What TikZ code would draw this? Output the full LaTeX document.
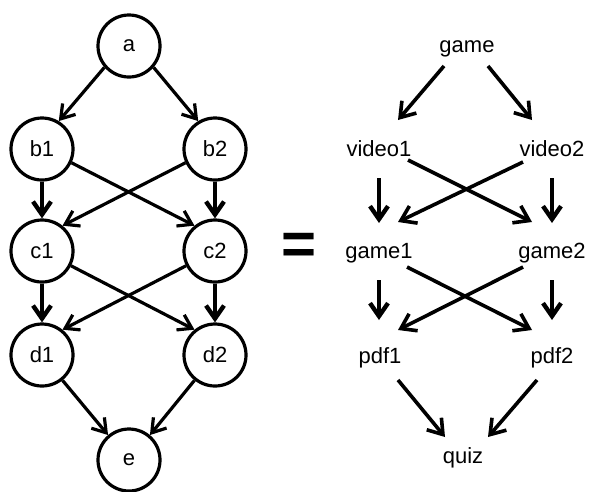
\documentclass[tikz,border=0pt]{standalone}
\usepackage{fontspec}
\setmainfont{Liberation Sans}
\usetikzlibrary{arrows.meta,calc}
\tikzset{
  circ/.style={circle,draw,line width=3.2pt,minimum size=62pt,inner sep=0pt,font=\fontsize{22}{26}\selectfont},
  lbl/.style={inner sep=0pt,anchor=base,font=\fontsize{22}{26}\selectfont},
  arr/.style={line width=3.2pt,-{Straight Barb[length=13pt,width=17pt]}},
  rarr/.style={line width=3.6pt,-{Straight Barb[length=14pt,width=19pt]}},
  varr/.style={line width=4.4pt,-{Straight Barb[length=13pt,width=18pt]}},
}
\begin{document}
\begin{tikzpicture}[x=1pt,y=-1pt]
\useasboundingbox (0,0) rectangle (591,491);
% left graph
\node[circ] (a)  at (129,46)  {a};
\node[circ] (b1) at (42,149)  {b1};
\node[circ] (b2) at (215,149) {b2};
\node[circ] (c1) at (42,251)  {c1};
\node[circ] (c2) at (215,251) {c2};
\node[circ] (d1) at (42,355)  {d1};
\node[circ] (d2) at (215,355) {d2};
\node[circ] (e)  at (129,460) {e};
\draw[arr] (a.221) -- (b1.59);
\draw[arr] (a.-41) -- (b2.121);
\draw[varr] (b1.south) -- (c1.north);
\draw[varr] (b2.south) -- (c2.north);
\draw[arr] (b1.-25) -- (c2.129);
\draw[arr] (b2.205) -- (c1.51);
\draw[varr] (c1.south) -- (d1.north);
\draw[varr] (c2.south) -- (d2.north);
\draw[arr] (c1.-27) -- (d2.129);
\draw[arr] (c2.207) -- (d1.51);
\draw[arr] (d1.-51) -- (e.130);
\draw[arr] (d2.231) -- (e.50);
% equals
\node[inner sep=0pt,font=\fontsize{60}{60}\bfseries\selectfont] (eq) at (299,249) {=};
% right graph
\node[lbl] (game)   at (467,52)  {game};
\node[lbl] (video1) at (379,156) {video1};
\node[lbl] (video2) at (552,156) {video2};
\node[lbl] (game1)  at (379,258) {game1};
\node[lbl] (game2)  at (552,258) {game2};
\node[lbl] (pdf1)   at (380,363) {pdf1};
\node[lbl] (pdf2)   at (552,363) {pdf2};
\node[lbl] (quiz)   at (463,463) {quiz};
\draw[rarr] ($(game.base)+(-23,14)$) -- ($(video1.base)+(19,-36)$);
\draw[rarr] ($(game.base)+(21,14)$) -- ($(video2.base)+(-20,-36)$);
\draw[varr] ($(video1.base)+(0,22)$) -- ($(game1.base)+(0,-35)$);
\draw[varr] ($(video2.base)+(0,22)$) -- ($(game2.base)+(0,-35)$);
\draw[rarr] ($(video1.base)+(29,4)$) -- ($(game2.base)+(-20,-36)$);
\draw[rarr] ($(video2.base)+(-29,6)$) -- ($(game1.base)+(19,-36)$);
\draw[varr] ($(game1.base)+(0,22)$) -- ($(pdf1.base)+(-1,-43)$);
\draw[varr] ($(game2.base)+(0,22)$) -- ($(pdf2.base)+(0,-43)$);
\draw[rarr] ($(game1.base)+(28,9)$) -- ($(pdf2.base)+(-20,-33)$);
\draw[rarr] ($(game2.base)+(-29,9)$) -- ($(pdf1.base)+(18,-33)$);
\draw[rarr] ($(pdf1.base)+(18,17)$) -- ($(quiz.base)+(-18,-26)$);
\draw[rarr] ($(pdf2.base)+(-15,17)$) -- ($(quiz.base)+(25,-26)$);
\end{tikzpicture}
\end{document}
